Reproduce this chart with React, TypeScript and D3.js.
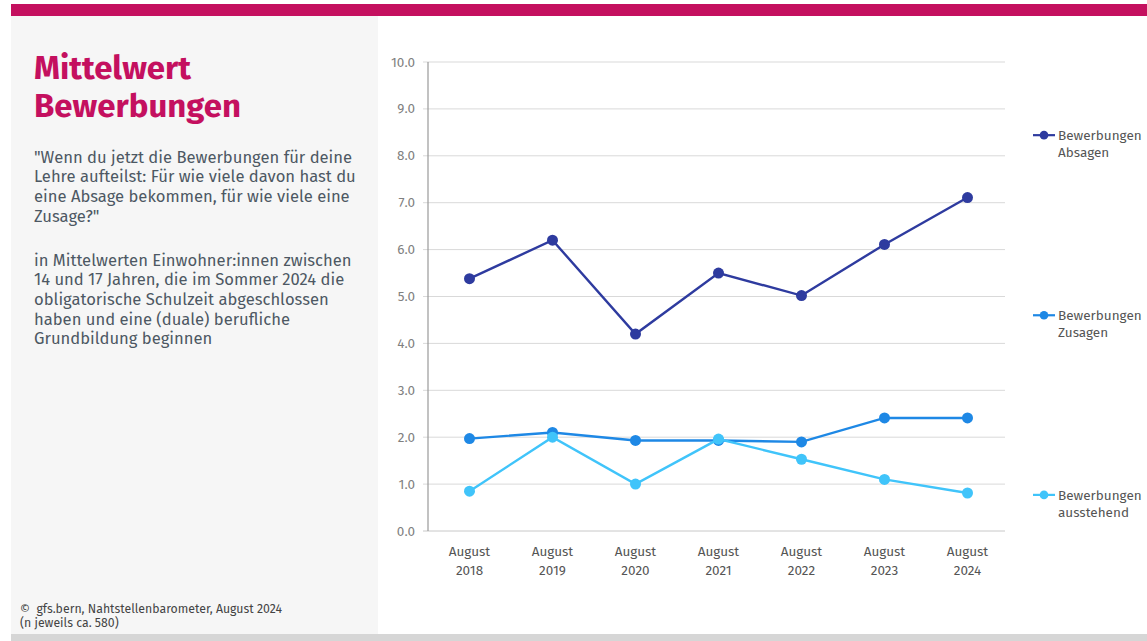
import React from "react";
import * as d3 from "d3";

const categories = ["2018", "2019", "2020", "2021", "2022", "2023", "2024"];
const absagen = [5.38, 6.2, 4.2, 5.5, 5.02, 6.11, 7.11];
const zusagen = [1.97, 2.1, 1.93, 1.93, 1.9, 2.41, 2.41];
const ausstehend = [0.85, 2.0, 1.0, 1.96, 1.53, 1.1, 0.81];
const yTicks = [0, 1, 2, 3, 4, 5, 6, 7, 8, 9, 10];

const seriesNames = [["Bewerbungen", "Absagen"], ["Bewerbungen", "Zusagen"], ["Bewerbungen", "ausstehend"]];
const seriesColors = ["#2e3b9f", "#1e88e5", "#40c4fa"];
const seriesData = [absagen, zusagen, ausstehend];
const legendValues = [8.44, 4.6, 0.77];

const questionLines = [
  "\"Wenn du jetzt die Bewerbungen für deine",
  "Lehre aufteilst: Für wie viele davon hast du",
  "eine Absage bekommen, für wie viele eine",
  "Zusage?\"",
];
const noteLines = [
  "in Mittelwerten Einwohner:innen zwischen",
  "14 und 17 Jahren, die im Sommer 2024 die",
  "obligatorische Schulzeit abgeschlossen",
  "haben und eine (duale) berufliche",
  "Grundbildung beginnen",
];

export default function App() {
  const W = 1147, H = 641;
  const font = "'Fira Sans', 'Open Sans', sans-serif";
  const x = d3.scaleBand<string>().domain(categories).range([428, 1009]);
  const y = d3.scaleLinear().domain([0, 10]).range([531, 62]);
  const line = d3.line<number>()
    .x((_, i) => (x(categories[i]) as number) + x.bandwidth() / 2)
    .y((d) => y(d));

  return (
    <svg width={W} height={H} style={{ position: "absolute", left: 0, top: 0, background: "#fff" }}>
      <rect x={11} y={4} width={W - 11} height={12} fill="#c4105f" />
      <rect x={11} y={16} width={367} height={618} fill="#f6f6f6" />
      <rect x={11} y={634} width={W - 11} height={7} fill="#d6d6d6" />

      <text x={34} y={79} fill="#c4105f" fontFamily={font} fontWeight={700} fontSize={33}>Mittelwert</text>
      <text x={34} y={117} fill="#c4105f" fontFamily={font} fontWeight={700} fontSize={33}>Bewerbungen</text>

      {questionLines.map((t, i) => (
        <text key={"q" + i} x={34} y={162.5 + i * 19.7} fill="#4d5863" fontFamily={font} fontSize={16.6}>{t}</text>
      ))}
      {noteLines.map((t, i) => (
        <text key={"n" + i} x={34} y={265.5 + i * 19.7} fill="#4d5863" fontFamily={font} fontSize={16.6}>{t}</text>
      ))}

      <text x={20} y={613} fill="#444" fontFamily={font} fontSize={12.3} style={{ whiteSpace: "pre" }}>{"©  gfs.bern, Nahtstellenbarometer, August 2024"}</text>
      <text x={20} y={626.5} fill="#444" fontFamily={font} fontSize={12.3}>(n jeweils ca. 580)</text>

      {yTicks.map((t) => (
        <g key={"g" + t}>
          <line x1={423} x2={1005} y1={y(t)} y2={y(t)} stroke={t === 0 ? "#c8c8c8" : "#d9d9d9"} strokeWidth={1} />
          <text x={415} y={y(t) + 4.5} textAnchor="end" fill="#808080" fontFamily={font} fontSize={13.5}>{t.toFixed(1)}</text>
        </g>
      ))}
      <line x1={428} x2={428} y1={62} y2={531} stroke="#999" strokeWidth={1.2} />

      {categories.map((c) => {
        const cx = (x(c) as number) + x.bandwidth() / 2;
        return (
          <g key={"x" + c}>
            <text x={cx} y={556} textAnchor="middle" fill="#555" fontFamily={font} fontSize={13.5}>August</text>
            <text x={cx} y={575} textAnchor="middle" fill="#555" fontFamily={font} fontSize={13.5}>{c}</text>
          </g>
        );
      })}

      {seriesData.map((data, si) => (
        <g key={"s" + si}>
          <path d={line(data) || ""} fill="none" stroke={seriesColors[si]} strokeWidth={2.4} />
          {data.map((v, i) => (
            <circle key={i} cx={(x(categories[i]) as number) + x.bandwidth() / 2} cy={y(v)} r={5.5} fill={seriesColors[si]} />
          ))}
        </g>
      ))}

      {seriesNames.map((n, si) => {
        const ly = y(legendValues[si]);
        return (
          <g key={"l" + si}>
            <line x1={1033} x2={1055} y1={ly} y2={ly} stroke={seriesColors[si]} strokeWidth={2.2} />
            <circle cx={1044} cy={ly} r={4.3} fill={seriesColors[si]} />
            <text x={1058} y={ly + 5} fill="#555" fontFamily={font} fontSize={13.5}>{n[0]}</text>
            <text x={1058} y={ly + 22} fill="#555" fontFamily={font} fontSize={13.5}>{n[1]}</text>
          </g>
        );
      })}
    </svg>
  );
}
